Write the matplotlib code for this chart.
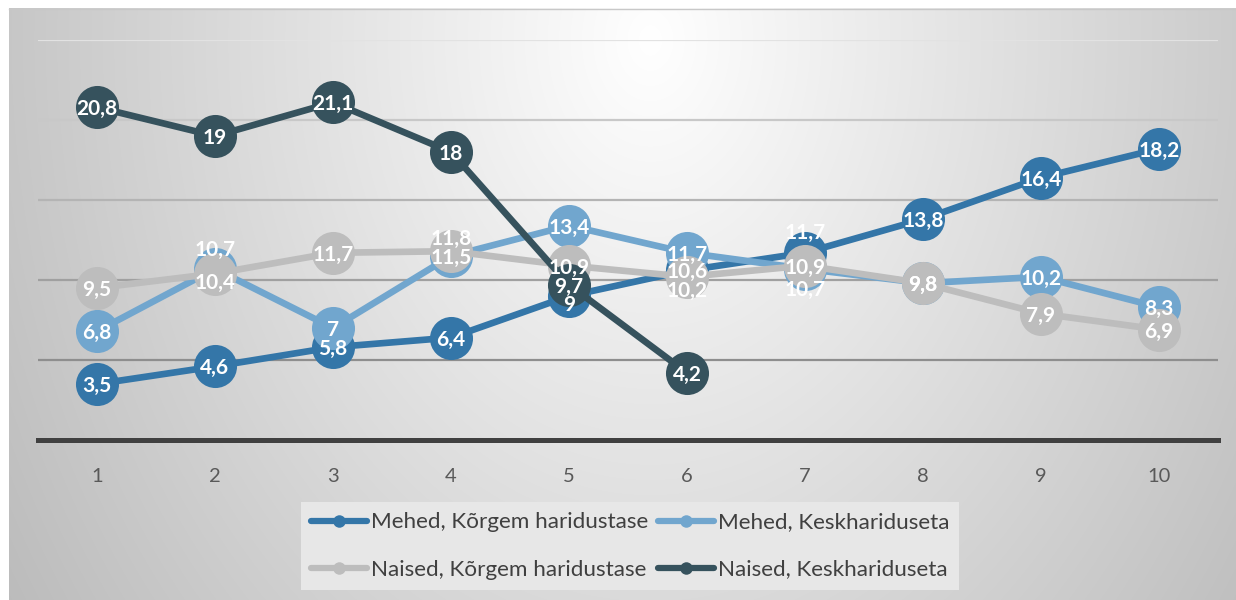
import numpy as np
import matplotlib
matplotlib.use("Agg")
import matplotlib.pyplot as plt
from matplotlib.lines import Line2D

# --- data -----------------------------------------------------------------
categories = [1, 2, 3, 4, 5, 6, 7, 8, 9, 10]
mehed_korgem = [3.5, 4.6, 5.8, 6.4, 9, 10.6, 11.7, 13.8, 16.4, 18.2]
mehed_kesk = [6.8, 10.7, 7, 11.5, 13.4, 11.7, 10.7, 9.8, 10.2, 8.3]
naised_korgem = [9.5, 10.4, 11.7, 11.8, 10.9, 10.2, 10.9, 9.8, 7.9, 6.9]
naised_kesk = [20.8, 19, 21.1, 18, 9.7, 4.2, None, None, None, None]
series_names = ["Mehed, Kõrgem haridustase", "Mehed, Keskhariduseta",
                "Naised, Kõrgem haridustase", "Naised, Keskhariduseta"]

# --- style ----------------------------------------------------------------
colors = ["#3476a8", "#71a6ce", "#bdbdbd", "#36525d"]
# label nudges (points, vertical) where labels would collide
nudge = {(0, 4): -5, (0, 6): 16, (1, 1): 15, (1, 6): -14,
         (2, 1): -5, (2, 3): 10, (2, 5): -9}

W, H = 1236, 600
fig = plt.figure(figsize=(W / 100, H / 100), dpi=100)

# background: radial grey gradient in the chart area
bg = fig.add_axes([0, 0, 1, 1])
yy, xx = np.mgrid[0:H, 0:W]
r = np.sqrt(((xx - 650) / 640.0) ** 2 + ((yy - 40) / 850.0) ** 2)
v = 1 - 0.22 * np.clip(r, 0, 1.3)
v[(xx < 9) | (yy < 8)] = 1.0
bg.imshow(np.dstack([v, v, v]), extent=[0, W, H, 0], aspect="auto")
bg.plot([9, W], [8.5, 8.5], color="#c8c8c8", lw=1)
bg.set_xlim(0, W)
bg.set_ylim(H, 0)
bg.axis("off")

ax = fig.add_axes([38 / W, 1 - 440 / H, (1218 - 38) / W, 400 / H])
ax.patch.set_alpha(0)
ax.set_xlim(0.5, 10.5)
ax.set_ylim(0, 25)

grid_cols = {5: "#8e8e8e", 10: "#a0a0a0", 15: "#b4b4b4", 20: "#c8c8c8", 25: "#e2e2e2"}
for gy, gc in grid_cols.items():
    ax.axhline(gy, color=gc, lw=1.6, zorder=1)
ax.axhline(0, color="#404040", lw=3.6, zorder=2, clip_on=False)

for s in ax.spines.values():
    s.set_visible(False)
ax.set_yticks([])
ax.set_xticks(categories)
ax.tick_params(axis="x", length=0, pad=20, labelsize=14.5, labelcolor="#595959")
for lab in ax.get_xticklabels():
    lab.set_fontfamily("Lato")

all_series = [mehed_korgem, mehed_kesk, naised_korgem, naised_kesk]
for i, vals in enumerate(all_series):
    y = np.array([np.nan if v_ is None else v_ for v_ in vals], dtype=float)
    ax.plot(categories, y, color=colors[i], lw=4.8, marker="o", markersize=31,
            markeredgewidth=0, zorder=3 + i, clip_on=False, solid_capstyle="round")

for i, vals in enumerate(all_series):
    for j, v_ in enumerate(vals):
        if v_ is None:
            continue
        txt = ("%g" % v_).replace(".", ",")
        ax.annotate(txt, (categories[j], v_), xytext=(0, nudge.get((i, j), 0)),
                    textcoords="offset points", ha="center", va="center_baseline",
                    color="white", fontsize=15, fontweight="bold",
                    fontfamily="Lato", zorder=20, annotation_clip=False)

handles = [Line2D([], [], color=colors[k], lw=4.5, marker="o", markersize=9,
                  markeredgewidth=0, solid_capstyle="round") for k in range(4)]
order = [0, 2, 1, 3]
leg = fig.legend([handles[k] for k in order], [series_names[k] for k in order],
                 ncol=2, loc="center", bbox_to_anchor=(630 / W, 1 - 546 / H),
                 frameon=True, fancybox=False, facecolor="#e7e7e7", edgecolor="none",
                 framealpha=1, prop={"family": "Lato", "size": 16.2},
                 labelcolor="#404040", handlelength=2.5, handletextpad=0.15,
                 columnspacing=0.45, labelspacing=1.2, borderpad=0.45)

fig.savefig("out.png", dpi=100)
